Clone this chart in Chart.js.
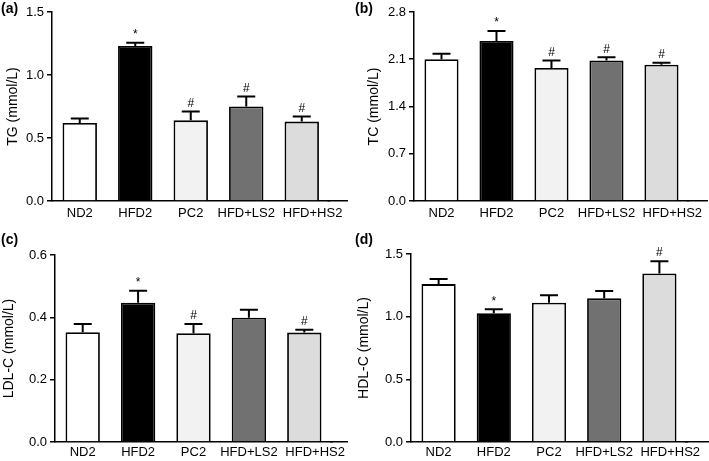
<!DOCTYPE html>
<html>
<head>
<meta charset="utf-8">
<script src="https://cdn.jsdelivr.net/npm/chart.js@4.4.1/dist/chart.umd.min.js"></script>
<style>
  body { margin: 0; background: #fff; }
  #wrap { position: relative; width: 709px; height: 461px; }
  canvas { position: absolute; }
  .lbl { position: absolute; font: bold 14px "Liberation Sans", Arial, sans-serif; }
</style>
</head>
<body>
<div id="wrap">
  <canvas id="tg" width="354" height="230" style="left:0;top:0"></canvas>
  <canvas id="tc" width="355" height="230" style="left:354px;top:0"></canvas>
  <canvas id="ldl" width="354" height="231" style="left:0;top:230px"></canvas>
  <canvas id="hdl" width="355" height="231" style="left:354px;top:230px"></canvas>
  <div class="lbl" style="left:1px;top:0px">(a)</div>
  <div class="lbl" style="left:355px;top:0px">(b)</div>
  <div class="lbl" style="left:1px;top:231px">(c)</div>
  <div class="lbl" style="left:355px;top:231px">(d)</div>
</div>
<script>
const groups = ['ND2', 'HFD2', 'PC2', 'HFD+LS2', 'HFD+HS2'];
const barColors = ['#ffffff', '#000000', '#f2f2f2', '#717171', '#dcdcdc'];

// means and SEM
const tgMean = [0.62, 1.23, 0.64, 0.75, 0.63];
const tgSem = [0.035, 0.025, 0.07, 0.08, 0.04];
const tgMarks = ['', '*', '#', '#', '#'];

const tcMean = [2.10, 2.37, 1.97, 2.08, 2.02];
const tcSem = [0.08, 0.15, 0.11, 0.05, 0.03];
const tcMarks = ['', '*', '#', '#', '#'];

const ldlMean = [0.352, 0.447, 0.349, 0.399, 0.351];
const ldlSem = [0.027, 0.038, 0.030, 0.025, 0.009];
const ldlMarks = ['', '*', '#', '', '#'];

const hdlMean = [1.26, 1.027, 1.112, 1.146, 1.345];
const hdlSem = [0.04, 0.032, 0.058, 0.058, 0.098];
const hdlMarks = ['', '*', '', '', '#'];

const FONT = '"Liberation Sans", Arial, sans-serif';

// draws upper error bars and significance marks, and the x axis running on past the last bar
const errorBars = {
    id: 'errorBars',
    afterDatasetsDraw(chart, args, opts) {
        const ctx = chart.ctx;
        const meta = chart.getDatasetMeta(0);
        const y = chart.scales.y;
        const area = chart.chartArea;
        const axisY = Math.round(area.bottom - 0.75) + 0.75;
        ctx.save();
        ctx.strokeStyle = '#000';
        ctx.lineWidth = 1.5;
        ctx.beginPath();
        ctx.moveTo(area.right - 2, axisY);
        ctx.lineTo(area.right + opts.extend, axisY);
        ctx.stroke();
        ctx.lineWidth = 2;
        meta.data.forEach((bar, i) => {
            const top = y.getPixelForValue(opts.mean[i]);
            const end = y.getPixelForValue(opts.mean[i] + opts.sem[i]);
            ctx.beginPath();
            ctx.moveTo(bar.x, top);
            ctx.lineTo(bar.x, end);
            ctx.moveTo(bar.x - 9, end);
            ctx.lineTo(bar.x + 9, end);
            ctx.stroke();
            if (opts.marks[i]) {
                ctx.fillStyle = '#000';
                ctx.font = '12px ' + FONT;
                ctx.textAlign = 'center';
                ctx.textBaseline = 'bottom';
                ctx.fillText(opts.marks[i], bar.x, end - 2);
            }
        });
        ctx.restore();
    }
};

function makeChart(id, title, mean, sem, marks, max, step, box) {
    new Chart(document.getElementById(id), {
        type: 'bar',
        data: {
            labels: groups,
            datasets: [{
                data: mean,
                backgroundColor: barColors,
                borderColor: '#000',
                borderWidth: 1.8,
                borderSkipped: 'bottom',
                barPercentage: 0.62,
                categoryPercentage: 1.0
            }]
        },
        options: {
            responsive: false,
            animation: false,
            devicePixelRatio: 1,
            layout: { padding: { top: box.top, right: box.right, left: 0, bottom: 0 } },
            plugins: {
                legend: { display: false },
                tooltip: { enabled: false },
                errorBars: { mean: mean, sem: sem, marks: marks, extend: box.extend }
            },
            scales: {
                x: {
                    grid: { display: false, drawTicks: false },
                    border: { display: true, color: '#000', width: 1.5 },
                    ticks: {
                        color: '#000',
                        font: { size: 13, family: FONT },
                        padding: box.lblPad,
                        maxRotation: 0,
                        autoSkip: false,
                        // last label sits further right in the original
                        callback: (v, i) => i === 4 ? '\u00a0\u00a0\u00a0\u00a0\u00a0\u00a0' + groups[i] : groups[i]
                    },
                    afterFit: s => { s.height = box.bottom; }
                },
                y: {
                    min: 0,
                    max: max,
                    grid: { drawOnChartArea: false, drawTicks: true, tickLength: 5, color: '#000', lineWidth: 1.5 },
                    border: { display: true, color: '#000', width: 1.5 },
                    ticks: {
                        stepSize: step,
                        color: '#000',
                        padding: 3,
                        font: { size: 13, family: FONT },
                        callback: v => v.toFixed(1)
                    },
                    title: {
                        display: true,
                        text: title,
                        color: '#000',
                        font: { size: 14, family: FONT },
                        padding: { top: box.titlePad, bottom: 0 }
                    },
                    afterFit: s => { s.width = box.left; }
                }
            }
        },
        plugins: [errorBars]
    });
}

makeChart('tg', 'TG (mmol/L)', tgMean, tgSem, tgMarks, 1.5, 0.5,
    { left: 52, top: 12, right: 24.5, bottom: 29, extend: 18.5, titlePad: 4.5, lblPad: 5 });
makeChart('tc', 'TC (mmol/L)', tcMean, tcSem, tcMarks, 2.8, 0.7,
    { left: 60, top: 12, right: 19, bottom: 29, extend: 19, titlePad: 11.5, lblPad: 5 });
makeChart('ldl', 'LDL-C (mmol/L)', ldlMean, ldlSem, ldlMarks, 0.6, 0.2,
    { left: 55, top: 25, right: 22, bottom: 19, extend: 16, titlePad: 1, lblPad: 3 });
makeChart('hdl', 'HDL-C (mmol/L)', hdlMean, hdlSem, hdlMarks, 1.5, 0.5,
    { left: 57, top: 24, right: 22, bottom: 19, extend: 22, titlePad: 1.5, lblPad: 3 });
</script>
</body>
</html>
